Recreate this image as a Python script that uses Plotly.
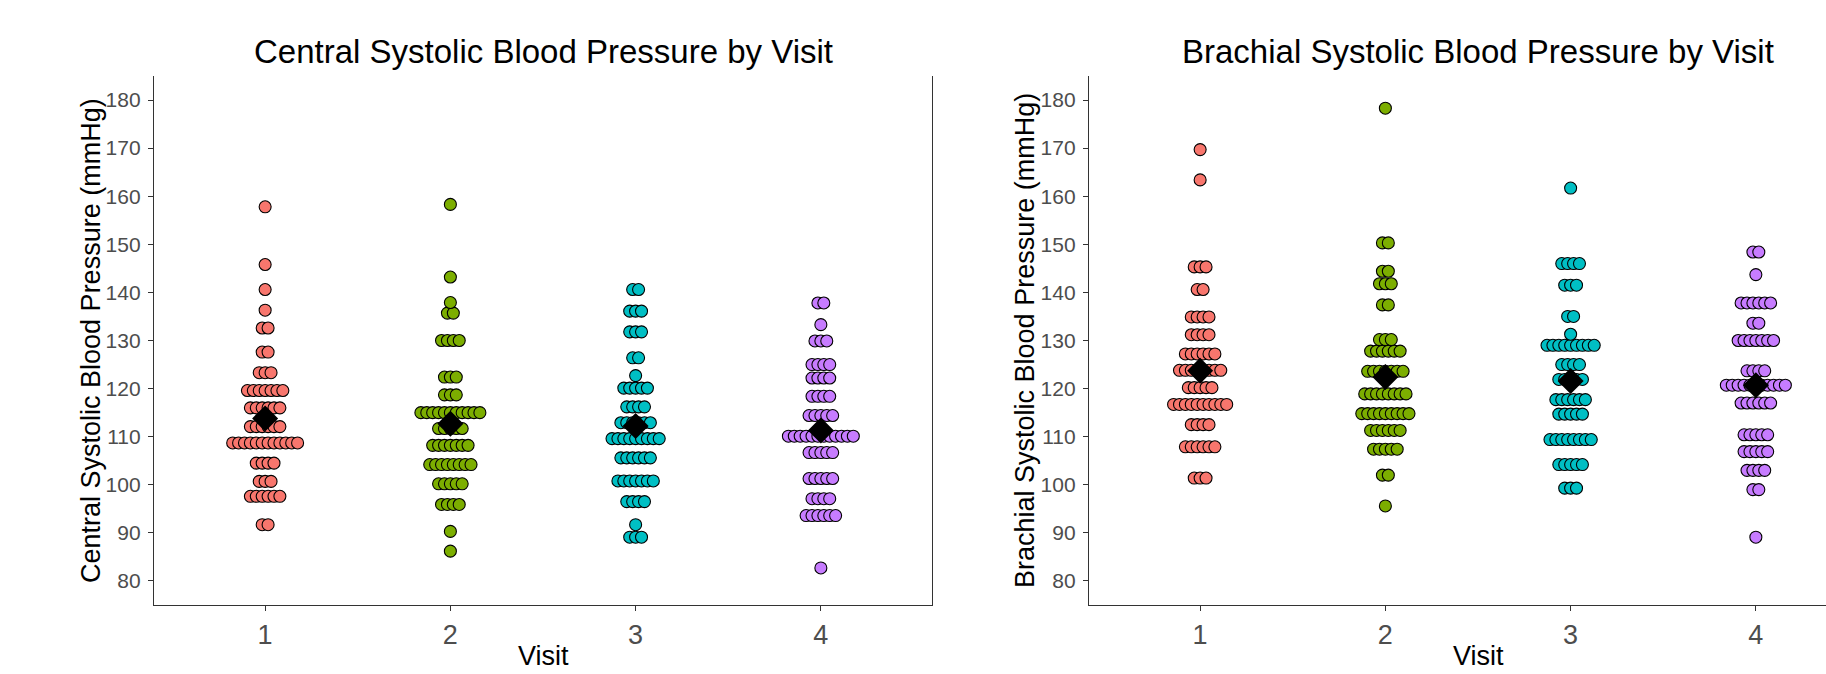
import plotly.graph_objects as go

# ---------------- data (bin value, number of dots) ----------------
visits = [1, 2, 3, 4]
visit_labels = ["1", "2", "3", "4"]
colors = ["#F8766D", "#7CAE00", "#00BFC4", "#C77CFF"]

central_v1_vals = [91.7, 97.6, 100.7, 104.5, 108.7, 112.1, 116.0, 119.6, 123.3, 127.6, 132.6, 136.3, 140.6, 145.8, 157.8]
central_v1_cnts = [2, 6, 3, 4, 12, 6, 6, 7, 3, 2, 2, 1, 1, 1, 1]
central_v2_vals = [86.2, 90.3, 95.9, 100.2, 104.2, 108.2, 111.7, 115.0, 118.7, 122.4, 130.0, 135.7, 137.9, 143.2, 158.3]
central_v2_cnts = [1, 1, 4, 5, 8, 7, 5, 11, 3, 3, 4, 2, 1, 1, 1]
central_v3_vals = [89.1, 91.7, 96.5, 100.8, 105.6, 109.6, 112.9, 116.2, 120.1, 122.7, 126.4, 131.8, 136.1, 140.6]
central_v3_cnts = [3, 1, 4, 7, 6, 9, 6, 4, 5, 1, 2, 3, 3, 2]
central_v4_vals = [82.7, 93.6, 97.1, 101.3, 106.7, 110.1, 114.4, 118.4, 122.2, 125.0, 129.9, 133.3, 137.8]
central_v4_cnts = [1, 6, 4, 5, 5, 12, 5, 4, 4, 4, 3, 1, 2]
central_means = [113.8, 112.7, 112.2, 111.3]

brachial_v1_vals = [101.4, 107.9, 112.5, 116.7, 120.2, 123.8, 127.2, 131.2, 134.9, 140.6, 145.3, 163.4, 169.7]
brachial_v1_cnts = [3, 6, 4, 10, 5, 8, 6, 4, 4, 2, 3, 1, 1]
brachial_v2_vals = [95.6, 102.0, 107.4, 111.3, 114.8, 118.9, 123.6, 127.8, 130.2, 137.4, 141.8, 144.4, 150.3, 178.3]
brachial_v2_cnts = [1, 2, 5, 6, 9, 8, 7, 6, 3, 2, 3, 2, 2, 1]
brachial_v3_vals = [99.3, 104.2, 109.4, 114.7, 117.7, 121.9, 125.0, 129.0, 131.3, 135.0, 141.5, 146.0, 161.7]
brachial_v3_cnts = [3, 5, 8, 5, 6, 5, 4, 9, 1, 2, 3, 4, 1]
brachial_v4_vals = [89.1, 99.0, 103.0, 106.9, 110.4, 117.0, 120.7, 123.7, 130.0, 133.6, 137.8, 143.7, 148.4]
brachial_v4_cnts = [1, 2, 4, 5, 5, 6, 11, 4, 7, 2, 6, 1, 2]
brachial_means = [123.7, 122.4, 121.6, 120.7]

y_ticks = [80, 90, 100, 110, 120, 130, 140, 150, 160, 170, 180]

central = [(central_v1_vals, central_v1_cnts), (central_v2_vals, central_v2_cnts),
           (central_v3_vals, central_v3_cnts), (central_v4_vals, central_v4_cnts)]
brachial = [(brachial_v1_vals, brachial_v1_cnts), (brachial_v2_vals, brachial_v2_cnts),
            (brachial_v3_vals, brachial_v3_cnts), (brachial_v4_vals, brachial_v4_cnts)]

# ---------------- layout geometry ----------------
W, H = 1826, 674
px_per_unit = 778 / 4.2
DX = 5.9 / px_per_unit  # horizontal stacking step in x units

fig = go.Figure()


def add_panel(groups, means, xa, ya):
    for v, (vals, cnts), col in zip(visits, groups, colors):
        xs, ys = [], []
        for val, n in zip(vals, cnts):
            for i in range(n):
                xs.append(v + (i - (n - 1) / 2) * DX)
                ys.append(val)
        fig.add_trace(go.Scatter(
            x=xs, y=ys, mode="markers", xaxis=xa, yaxis=ya, showlegend=False,
            marker=dict(size=12, color=col, line=dict(color="black", width=1.1)),
            hoverinfo="y"))
    fig.add_trace(go.Scatter(
        x=visits, y=means, mode="markers", xaxis=xa, yaxis=ya, showlegend=False,
        marker=dict(symbol="diamond", size=20, color="black", line=dict(width=0)),
        hoverinfo="y"))


add_panel(central, central_means, "x", "y")
add_panel(brachial, brachial_means, "x2", "y2")

axis_col = "#333333"
tick_font = dict(family="Liberation Sans, Arial, sans-serif", size=21, color="#4D4D4D")
xtick_font = dict(family="Liberation Sans, Arial, sans-serif", size=27, color="#4D4D4D")

ydom = [1 - 605 / H, 1 - 76 / H]
common_x = dict(tickvals=visits, ticktext=visit_labels, ticks="outside", ticklen=5,
                tickcolor=axis_col, showline=True, linecolor=axis_col, linewidth=1.3,
                showgrid=False, zeroline=False, tickfont=xtick_font, fixedrange=True)
common_y = dict(range=[75, 185], tickvals=y_ticks, ticks="outside", ticklen=5,
                tickcolor=axis_col, showline=True, linecolor=axis_col, linewidth=1.3,
                showgrid=False, zeroline=False, tickfont=tick_font, domain=ydom,
                mirror=True, ticklabelstandoff=3)

right_end = 0.4 + (W - 1089) / px_per_unit

fig.update_layout(
    width=W, height=H,
    margin=dict(l=0, r=0, t=0, b=0),
    paper_bgcolor="white", plot_bgcolor="white",
    font=dict(family="Liberation Sans, Arial, sans-serif"),
    xaxis=dict(domain=[154 / W, 932 / W], range=[0.4, 4.6], anchor="y", **common_x),
    yaxis=dict(anchor="x", **common_y),
    xaxis2=dict(domain=[1089 / W, 1.0], range=[0.4, right_end], anchor="y2", **common_x),
    yaxis2=dict(anchor="x2", **common_y),
)

title_font = dict(family="Liberation Sans, Arial, sans-serif", size=33, color="black")
axtitle_font = dict(family="Liberation Sans, Arial, sans-serif", size=27, color="black")

annots = [
    dict(text="Central Systolic Blood Pressure by Visit", x=543 / W, y=1 - 51 / H, font=title_font),
    dict(text="Brachial Systolic Blood Pressure by Visit", x=1478 / W, y=1 - 51 / H, font=title_font),
    dict(text="Visit", x=543 / W, y=1 - 656 / H, font=axtitle_font),
    dict(text="Visit", x=1478 / W, y=1 - 656 / H, font=axtitle_font),
    dict(text="Central Systolic Blood Pressure (mmHg)", x=91 / W, y=1 - 341 / H, font=axtitle_font, textangle=-90),
    dict(text="Brachial Systolic Blood Pressure (mmHg)", x=1025 / W, y=1 - 341 / H, font=axtitle_font, textangle=-90),
]
for a in annots:
    fig.add_annotation(xref="paper", yref="paper", showarrow=False,
                       xanchor="center", yanchor="middle", **a)

fig.write_html("out.html")
